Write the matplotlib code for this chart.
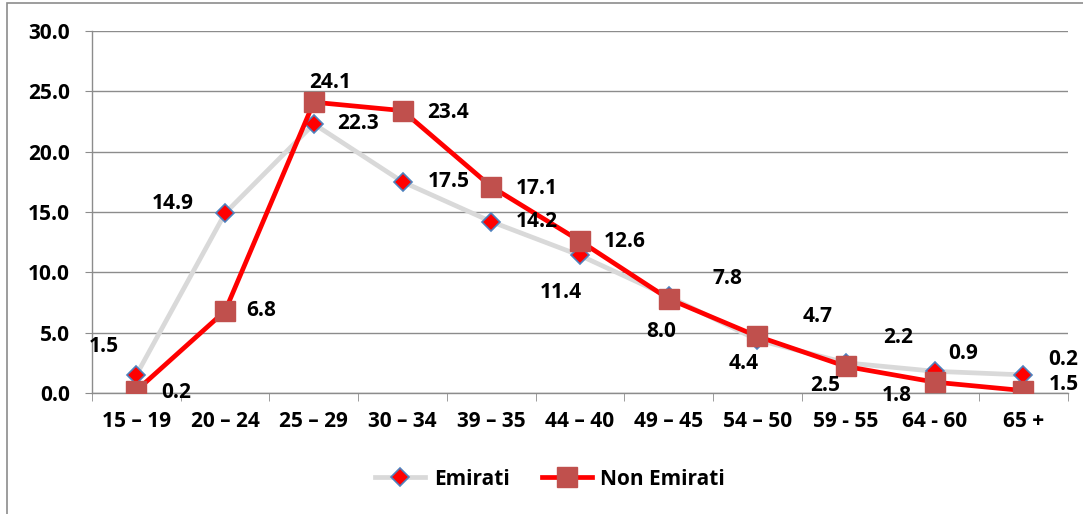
import matplotlib
matplotlib.use("Agg")
import matplotlib.pyplot as plt
from matplotlib.patches import Rectangle

plt.rcParams['font.family'] = ['Open Sans', 'DejaVu Sans']
plt.rcParams['font.weight'] = 'bold'

age_groups = ['15 – 19', '20 – 24', '25 – 29', '30 – 34', '39 – 35', '44 – 40',
              '49 – 45', '54 – 50', '59 - 55', '64 - 60', '65 +']
emirati = [1.5, 14.9, 22.3, 17.5, 14.2, 11.4, 8.0, 4.4, 2.5, 1.8, 1.5]
non_emirati = [0.2, 6.8, 24.1, 23.4, 17.1, 12.6, 7.8, 4.7, 2.2, 0.9, 0.2]

# label offsets in pixels (dx, dy) relative to each point, as in the original
emirati_off = [(-33, 28), (-52, 10), (44, 0), (46, 0), (46, 0), (-19, -37),
               (-7, -35), (-14, -24), (-21, -23), (-38, -24), (40, -10)]
non_emirati_off = [(40, -2), (36, 0), (16, 20), (46, -2), (46, -2), (45, -1),
                   (59, 20), (60, 20), (52, 29), (28, 29), (40, 31)]

fig = plt.figure(figsize=(10.83, 5.14), dpi=100)
ax = fig.add_axes([0.085, 0.2354, 0.901, 0.7043])

x = list(range(len(age_groups)))
grid_col = '#8c8c8c'
fs = 15

ax.plot(x, emirati, color='#d9d9d9', lw=3.4, marker='D', ms=9,
        mfc='#ff0000', mec='#4f81bd', mew=1.2, label='Emirati', zorder=3)
ax.plot(x, non_emirati, color='#ff0000', lw=3.4, marker='s', ms=14,
        mfc='#c0504d', mec='#c0504d', label='Non Emirati', zorder=4)

for i, v in enumerate(emirati):
    ax.annotate(f'{v:.1f}', (x[i], v), xytext=emirati_off[i],
                textcoords='offset pixels', ha='center', va='center',
                fontsize=fs, fontweight='bold', color='black', zorder=5)
for i, v in enumerate(non_emirati):
    ax.annotate(f'{v:.1f}', (x[i], v), xytext=non_emirati_off[i],
                textcoords='offset pixels', ha='center', va='center',
                fontsize=fs, fontweight='bold', color='black', zorder=5)

ax.set_xlim(-0.5, len(age_groups) - 0.5)
ax.set_ylim(0, 30)
ax.set_yticks([0, 5, 10, 15, 20, 25, 30])
ax.set_yticklabels([f'{t:.1f}' for t in [0, 5, 10, 15, 20, 25, 30]])
ax.set_xticks(x)
ax.set_xticklabels(age_groups)
ax.set_xticks([i - 0.5 for i in range(len(age_groups) + 1)], minor=True)

ax.tick_params(axis='y', length=5, color=grid_col, pad=11, labelsize=fs)
ax.tick_params(axis='x', which='major', length=0, pad=13, labelsize=fs)
ax.tick_params(axis='x', which='minor', length=6, color=grid_col)

ax.grid(axis='y', color=grid_col, lw=1)
ax.set_axisbelow(True)
for s in ['top', 'right']:
    ax.spines[s].set_visible(False)
for s in ['left', 'bottom']:
    ax.spines[s].set_color(grid_col)
    ax.spines[s].set_linewidth(1)

fig.legend(loc='center', bbox_to_anchor=(0.508, 0.068), ncol=2, frameon=False,
           fontsize=fs, handlelength=2.4, columnspacing=1.55, handletextpad=0.4)

fig.patches.append(Rectangle((7 / 1083, -0.1), 1.2, 1.1 - 3 / 514,
                             transform=fig.transFigure, fill=False,
                             edgecolor='#8c8c8c', lw=1.2))

fig.savefig('out.png', dpi=100)
